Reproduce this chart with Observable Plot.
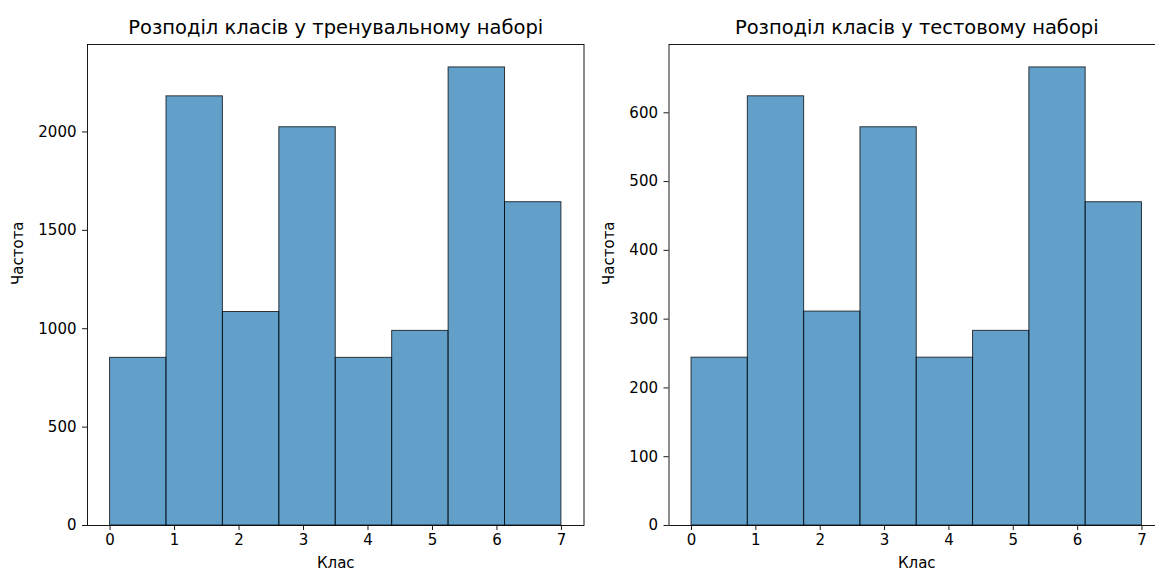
<!DOCTYPE html>
<html>
<head>
<meta charset="utf-8">
<script src="https://cdn.jsdelivr.net/npm/d3@7"></script>
<script src="https://cdn.jsdelivr.net/npm/@observablehq/plot@0.6"></script>
<style>
  html, body { margin: 0; padding: 0; background: #fff; overflow: hidden; }
  #wrap { position: relative; width: 1155px; height: 574px; overflow: hidden; }
  #wrap svg { position: absolute; top: 0; }
</style>
</head>
<body>
<div id="wrap"></div>
<script>
const binEdges = [0, 0.875, 1.75, 2.625, 3.5, 4.375, 5.25, 6.125, 7];
const trainCounts = [852, 2181, 1085, 2024, 852, 989, 2328, 1643];
const testCounts = [244, 624, 311, 579, 244, 283, 666, 470];
const xTicks = [0, 1, 2, 3, 4, 5, 6, 7];
const trainYTicks = [0, 500, 1000, 1500, 2000];
const testYTicks = [0, 100, 200, 300, 400, 500, 600];
const titles = ["Розподіл класів у тренувальному наборі", "Розподіл класів у тестовому наборі"];
const xLabel = "Клас";
const yLabel = "Частота";

function panel(counts, yTicks, title, opts) {
  const rows = counts.map((c, i) => ({x1: binEdges[i], x2: binEdges[i + 1], count: c}));
  const ymax = d3.max(counts) * 1.05;
  const svg = Plot.plot({
    width: opts.width,
    height: 574,
    marginLeft: opts.marginLeft,
    marginRight: opts.marginRight,
    marginTop: 44,
    marginBottom: 49,
    style: {fontFamily: "DejaVu Sans, sans-serif", fontSize: "15px", color: "black", background: "white"},
    x: {domain: [-0.35, 7.35]},
    y: {domain: [0, ymax]},
    marks: [
      Plot.rectY(rows, {x1: "x1", x2: "x2", y: "count", fill: "#1f77b4", fillOpacity: 0.7, stroke: "black", strokeOpacity: 0.75, strokeWidth: 1}),
      Plot.frame({stroke: "black", strokeWidth: 0.9}),
      Plot.axisX({ticks: xTicks, tickSize: 5, tickPadding: 4, label: null, tickFormat: d => String(d), strokeWidth: 0.9, fontSize: 15}),
      Plot.axisY({ticks: yTicks, tickSize: 5, tickPadding: 6, label: null, tickFormat: d => String(d), strokeWidth: 0.9, fontSize: 15}),
      Plot.text([title], {frameAnchor: "top", dy: -24, fontSize: 19.5, fill: "black"}),
      Plot.text([xLabel], {frameAnchor: "bottom", dy: 42, fontSize: 15, fill: "black"}),
      Plot.text([yLabel], {frameAnchor: "left", dx: opts.ylabelDx, rotate: -90, fontSize: 15, fill: "black"})
    ]
  });
  svg.style.left = opts.left + "px";
  return svg;
}

const wrap = document.getElementById("wrap");
wrap.appendChild(panel(trainCounts, trainYTicks, titles[0], {left: 0, width: 590, marginLeft: 87, marginRight: 6.5, ylabelDx: -69}));
wrap.appendChild(panel(testCounts, testYTicks, titles[1], {left: 590, width: 575, marginLeft: 78.5, marginRight: 1, ylabelDx: -59.5}));
</script>
</body>
</html>
